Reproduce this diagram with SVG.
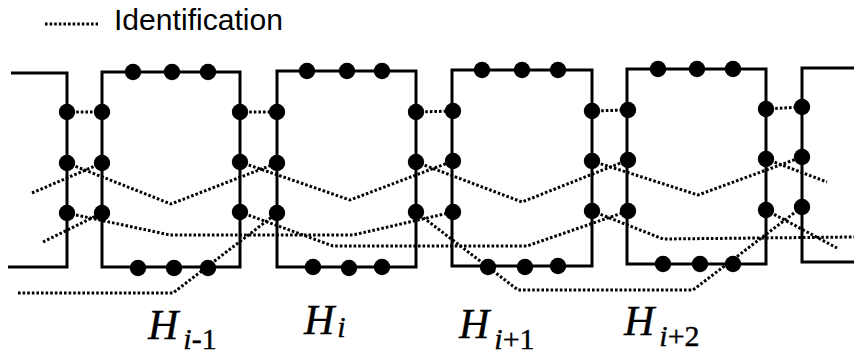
<svg xmlns="http://www.w3.org/2000/svg" width="854" height="354" viewBox="0 0 854 354">
<style>
.box{fill:none;stroke:#000;stroke-width:3}
.dot{fill:#000}
.dl{fill:none;stroke:#000;stroke-width:3;stroke-dasharray:2.6 2}
.leg{font-family:"Liberation Sans",Arial,sans-serif;font-size:30px;fill:#000}
.lab{font-family:"Liberation Serif","Times New Roman",serif;font-style:italic;font-size:42px;fill:#000;stroke:#000;stroke-width:0.4}
.sub{font-size:30px;font-style:italic}
.subn{font-size:30px;font-style:normal}
</style>
<defs>
<circle id="d" r="8.2" class="dot"/>
</defs>
<rect width="854" height="354" fill="#fff"/>
<g id="legend">
<line class="dl" x1="45" y1="24" x2="98" y2="24"/>
<text class="leg" x="114" y="30" textLength="169" lengthAdjust="spacingAndGlyphs">Identification</text>
</g>
<g id="connectors">
<polyline class="dl" points="67,112 102,112"/>
<polyline class="dl" points="240,112 277,112"/>
<polyline class="dl" points="416,112 453,111"/>
<polyline class="dl" points="592,111 628,110"/>
<polyline class="dl" points="766,109 802,107"/>
<polyline class="dl" points="32,193 102,163"/>
<polyline class="dl" points="67,163 171,204 277,163"/>
<polyline class="dl" points="240,162 350,200 453,161"/>
<polyline class="dl" points="416,162 522,202 628,160"/>
<polyline class="dl" points="592,161 698,195 802,157"/>
<polyline class="dl" points="766,159 827,182"/>
<polyline class="dl" points="43,242 102,213"/>
<polyline class="dl" points="67,213 170,235 353,235 453,212"/>
<polyline class="dl" points="18,293 173,293 277,213"/>
<polyline class="dl" points="240,212 333,246 527,246 628,211"/>
<polyline class="dl" points="416,212 518,290 693,290 802,207"/>
<polyline class="dl" points="592,211 663,239 854,237"/>
<polyline class="dl" points="766,210 837,248"/>
</g>
<g id="node-left">
<path class="box" d="M11,73 H67 V267 H8"/>
<use href="#d" x="67" y="112"/><use href="#d" x="67" y="163"/><use href="#d" x="67" y="213"/>
</g>
<g id="node-Hi-1">
<rect class="box" x="102" y="72" width="138" height="195"/>
<use href="#d" x="102" y="112"/><use href="#d" x="102" y="163"/><use href="#d" x="102" y="213"/>
<use href="#d" x="133" y="72"/><use href="#d" x="172" y="72"/><use href="#d" x="208" y="72"/>
<use href="#d" x="138" y="268"/><use href="#d" x="174" y="268"/><use href="#d" x="208" y="268"/>
<use href="#d" x="240" y="112"/><use href="#d" x="240" y="162"/><use href="#d" x="240" y="212"/>
<text class="lab" x="148" y="339">H<tspan class="sub" dx="5" y="349">i</tspan><tspan class="subn" y="349">-1</tspan></text>
</g>
<g id="node-Hi">
<rect class="box" x="277" y="71" width="139" height="196"/>
<use href="#d" x="277" y="112"/><use href="#d" x="277" y="163"/><use href="#d" x="277" y="213"/>
<use href="#d" x="307" y="71"/><use href="#d" x="347" y="71"/><use href="#d" x="382" y="71"/>
<use href="#d" x="313" y="267"/><use href="#d" x="349" y="268"/><use href="#d" x="382" y="267"/>
<use href="#d" x="416" y="112"/><use href="#d" x="416" y="162"/><use href="#d" x="416" y="212"/>
<text class="lab" x="304" y="334">H<tspan class="sub" dx="3" y="337">i</tspan></text>
</g>
<g id="node-Hi+1">
<rect class="box" x="452" y="70" width="140" height="196"/>
<use href="#d" x="453" y="111"/><use href="#d" x="453" y="161"/><use href="#d" x="453" y="212"/>
<use href="#d" x="482" y="70"/><use href="#d" x="522" y="70"/><use href="#d" x="558" y="70"/>
<use href="#d" x="488" y="267"/><use href="#d" x="525" y="267"/><use href="#d" x="558" y="266"/>
<use href="#d" x="592" y="111"/><use href="#d" x="592" y="161"/><use href="#d" x="592" y="211"/>
<text class="lab" x="459" y="338">H<tspan class="sub" dx="5" y="349">i</tspan><tspan class="subn" y="349">+1</tspan></text>
</g>
<g id="node-Hi+2">
<rect class="box" x="627" y="69" width="139" height="195"/>
<use href="#d" x="628" y="110"/><use href="#d" x="628" y="160"/><use href="#d" x="628" y="211"/>
<use href="#d" x="658" y="69"/><use href="#d" x="697" y="69"/><use href="#d" x="733" y="69"/>
<use href="#d" x="663" y="264"/><use href="#d" x="700" y="264"/><use href="#d" x="733" y="264"/>
<use href="#d" x="766" y="109"/><use href="#d" x="766" y="159"/><use href="#d" x="766" y="210"/>
<text class="lab" x="624" y="335">H<tspan class="sub" dx="5" y="346">i</tspan><tspan class="subn" y="346">+2</tspan></text>
</g>
<g id="node-right">
<path class="box" d="M854,68 H802 V262 H854"/>
<use href="#d" x="802" y="107"/><use href="#d" x="802" y="157"/><use href="#d" x="802" y="207"/>
</g>
</svg>
